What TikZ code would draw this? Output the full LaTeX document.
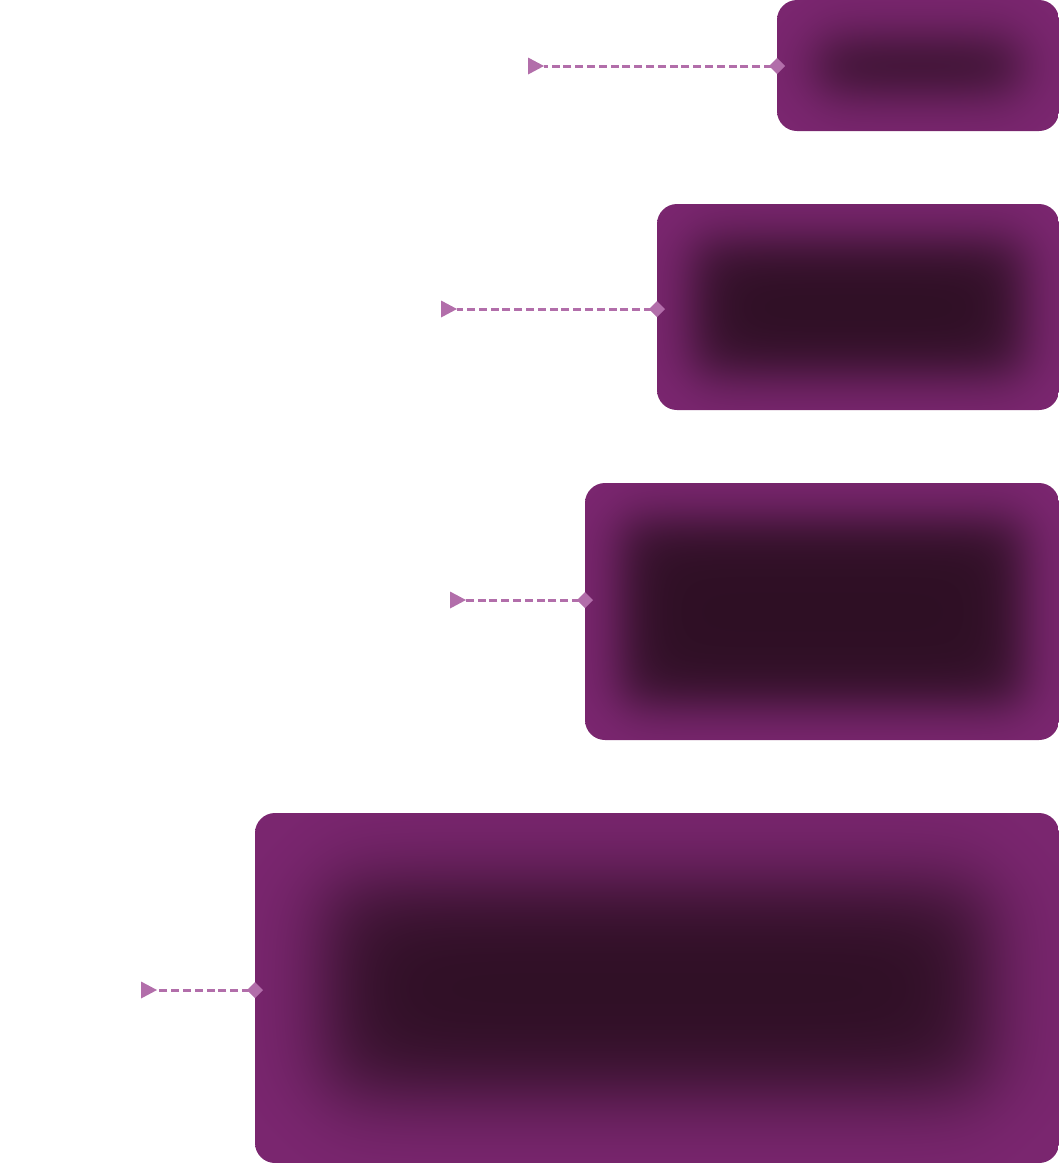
\documentclass[tikz,border=0pt]{standalone}
\usetikzlibrary{arrows.meta}
\definecolor{edgepurple}{RGB}{123,38,112}
\definecolor{corepurple}{RGB}{46,15,36}
\definecolor{linkcol}{RGB}{178,110,170}
% Blurred dark core inside a purple panel (product of two logistic ramps).
% x y (bp, 0..100; the panel maps to 25..75) -> r g b
\pgfdeclarefunctionalshading{glowA}{\pgfpointorigin}{\pgfpoint{100bp}{100bp}}{}{
  exch 25 sub 5.64 mul
  dup 40 sub -0.06546 mul 2.71828 exch exp 1 add 1 exch div
  exch 242 sub -0.06546 mul 2.71828 exch exp 1 add 1 exch div sub
  exch 25 sub 2.62 mul
  dup 40 sub -0.06546 mul 2.71828 exch exp 1 add 1 exch div
  exch 91 sub -0.06546 mul 2.71828 exch exp 1 add 1 exch div sub
  mul dup dup
  -0.302 mul 0.482 add 3 1 roll
  -0.090 mul 0.149 add exch
  -0.298 mul 0.439 add
}
\pgfdeclarefunctionalshading{glowB}{\pgfpointorigin}{\pgfpoint{100bp}{100bp}}{}{
  exch 25 sub 8.04 mul
  dup 36 sub -0.06546 mul 2.71828 exch exp 1 add 1 exch div
  exch 366 sub -0.06546 mul 2.71828 exch exp 1 add 1 exch div sub
  exch 25 sub 4.12 mul
  dup 36 sub -0.06546 mul 2.71828 exch exp 1 add 1 exch div
  exch 170 sub -0.06546 mul 2.71828 exch exp 1 add 1 exch div sub
  mul dup dup
  -0.302 mul 0.482 add 3 1 roll
  -0.090 mul 0.149 add exch
  -0.298 mul 0.439 add
}
\pgfdeclarefunctionalshading{glowC}{\pgfpointorigin}{\pgfpoint{100bp}{100bp}}{}{
  exch 25 sub 9.48 mul
  dup 36 sub -0.06808 mul 2.71828 exch exp 1 add 1 exch div
  exch 438 sub -0.06808 mul 2.71828 exch exp 1 add 1 exch div sub
  exch 25 sub 5.14 mul
  dup 36 sub -0.06808 mul 2.71828 exch exp 1 add 1 exch div
  exch 221 sub -0.06808 mul 2.71828 exch exp 1 add 1 exch div sub
  mul dup dup
  -0.302 mul 0.482 add 3 1 roll
  -0.090 mul 0.149 add exch
  -0.298 mul 0.439 add
}
\pgfdeclarefunctionalshading{glowD}{\pgfpointorigin}{\pgfpoint{100bp}{100bp}}{}{
  exch 25 sub 16.08 mul
  dup 70 sub -0.04052 mul 2.71828 exch exp 1 add 1 exch div
  exch 734 sub -0.04052 mul 2.71828 exch exp 1 add 1 exch div sub
  exch 25 sub 7 mul
  dup 70 sub -0.04052 mul 2.71828 exch exp 1 add 1 exch div
  exch 280 sub -0.04052 mul 2.71828 exch exp 1 add 1 exch div sub
  mul dup dup
  -0.302 mul 0.482 add 3 1 roll
  -0.090 mul 0.149 add exch
  -0.298 mul 0.439 add
}
\tikzset{
  panel/.style={shade, shading=#1, draw=none, rounded corners=20pt, inner sep=0pt, outer sep=0pt, anchor=north west},
  link/.style={draw=linkcol, line width=3pt, dash pattern=on 8pt off 3.8pt,
    {Diamond[length=16pt,width=16pt,line width=0pt,fill=linkcol]}-{Triangle[reversed,length=16pt,width=17pt,line width=0pt,fill=linkcol]},
    shorten <=-8pt},
}
\begin{document}
\begin{tikzpicture}[x=1pt, y=-1pt]
\useasboundingbox (0,0) rectangle (1059,1163);
% boxes
\node[panel=glowA, minimum width=282pt, minimum height=131pt] (b1) at (777,0) {};
\node[panel=glowB, minimum width=402pt, minimum height=206pt] (b2) at (657,204) {};
\node[panel=glowC, minimum width=474pt, minimum height=257pt] (b3) at (585,483) {};
\node[panel=glowD, minimum width=804pt, minimum height=350pt] (b4) at (255,813) {};
% connector ends
\coordinate (d1) at (b1.west |- 0,66);
\coordinate (t1) at (528,66);
\coordinate (d2) at (b2.west |- 0,309);
\coordinate (t2) at (441,309);
\coordinate (d3) at (b3.west |- 0,600);
\coordinate (t3) at (450,600);
\coordinate (d4) at (b4.west |- 0,990);
\coordinate (t4) at (141,990);
\draw[link] (d1) -- (t1);
\draw[link] (d2) -- (t2);
\draw[link] (d3) -- (t3);
\draw[link] (d4) -- (t4);
\end{tikzpicture}
\end{document}
